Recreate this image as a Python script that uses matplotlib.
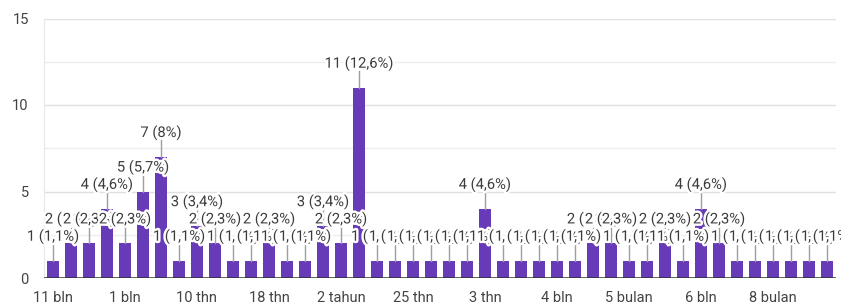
import matplotlib
matplotlib.use('Agg')
import matplotlib.pyplot as plt
import matplotlib.patheffects as pe
import numpy as np

# counts per answer (44 answers, only every 4th label shown on the axis)
values = [1, 2, 2, 4, 2, 5, 7, 1, 3, 2,
          1, 1, 2, 1, 1, 3, 2, 11, 1, 1,
          1, 1, 1, 1, 4, 1, 1, 1, 1, 1,
          2, 2, 1, 1, 2, 1, 4, 2, 1, 1,
          1, 1, 1, 1]
tick_labels = ['11 bln', '1 bln', '10 thn', '18 thn', '2 tahun', '25 thn',
               '3 thn', '4 bln', '5 bulan', '6 bln', '8 bulan']
tick_step = 4

plt.rcParams['font.family'] = ['Roboto', 'DejaVu Sans']

purple = '#673ab7'
total = sum(values)
x = np.arange(len(values))


def fmt_pct(v):
    p = round(v / total * 100, 1)
    if p == int(p):
        s = str(int(p))
    else:
        s = f'{p:.1f}'.replace('.', ',')
    return f'{v} ({s}%)'


fig = plt.figure(figsize=(8.41, 3.07), dpi=100)
ax = fig.add_axes([44 / 841, 1 - 278 / 307, 792 / 841, 259.5 / 307])

ax.bar(x, values, width=0.64, color=purple, zorder=2)

# grid
for g in [2.5, 7.5, 12.5]:
    ax.axhline(g, color='#eeeeee', lw=1, zorder=0)
for g in [5, 10, 15]:
    ax.axhline(g, color='#e0e0e0', lw=1, zorder=0)
ax.axhline(0, color='#333333', lw=1.8, zorder=3)

# value labels with leader lines
for xi, v in zip(x, values):
    ax.plot([xi, xi], [v, v + 0.95], color='#9e9e9e', lw=1, zorder=3)
for xi, v in zip(x, values):
    ax.text(xi, v + 1.4, fmt_pct(v), ha='center', va='center', fontsize=10.6,
            color='#3c3c3c', zorder=4,
            path_effects=[pe.withStroke(linewidth=3.5, foreground='white')])

ax.set_xlim(-0.5, len(values) - 0.5)
ax.set_ylim(0, 15)
ax.set_yticks([0, 5, 10, 15])
ax.set_xticks(x[::tick_step])
ax.set_xticklabels(tick_labels)
ax.tick_params(axis='both', length=0, labelsize=10.5, colors='#444444')
ax.tick_params(axis='y', pad=11)
ax.tick_params(axis='x', pad=9)
for s in ['top', 'right', 'bottom']:
    ax.spines[s].set_visible(False)
ax.spines['left'].set_color('#e8e8e8')

fig.savefig('out.png', dpi=100)
